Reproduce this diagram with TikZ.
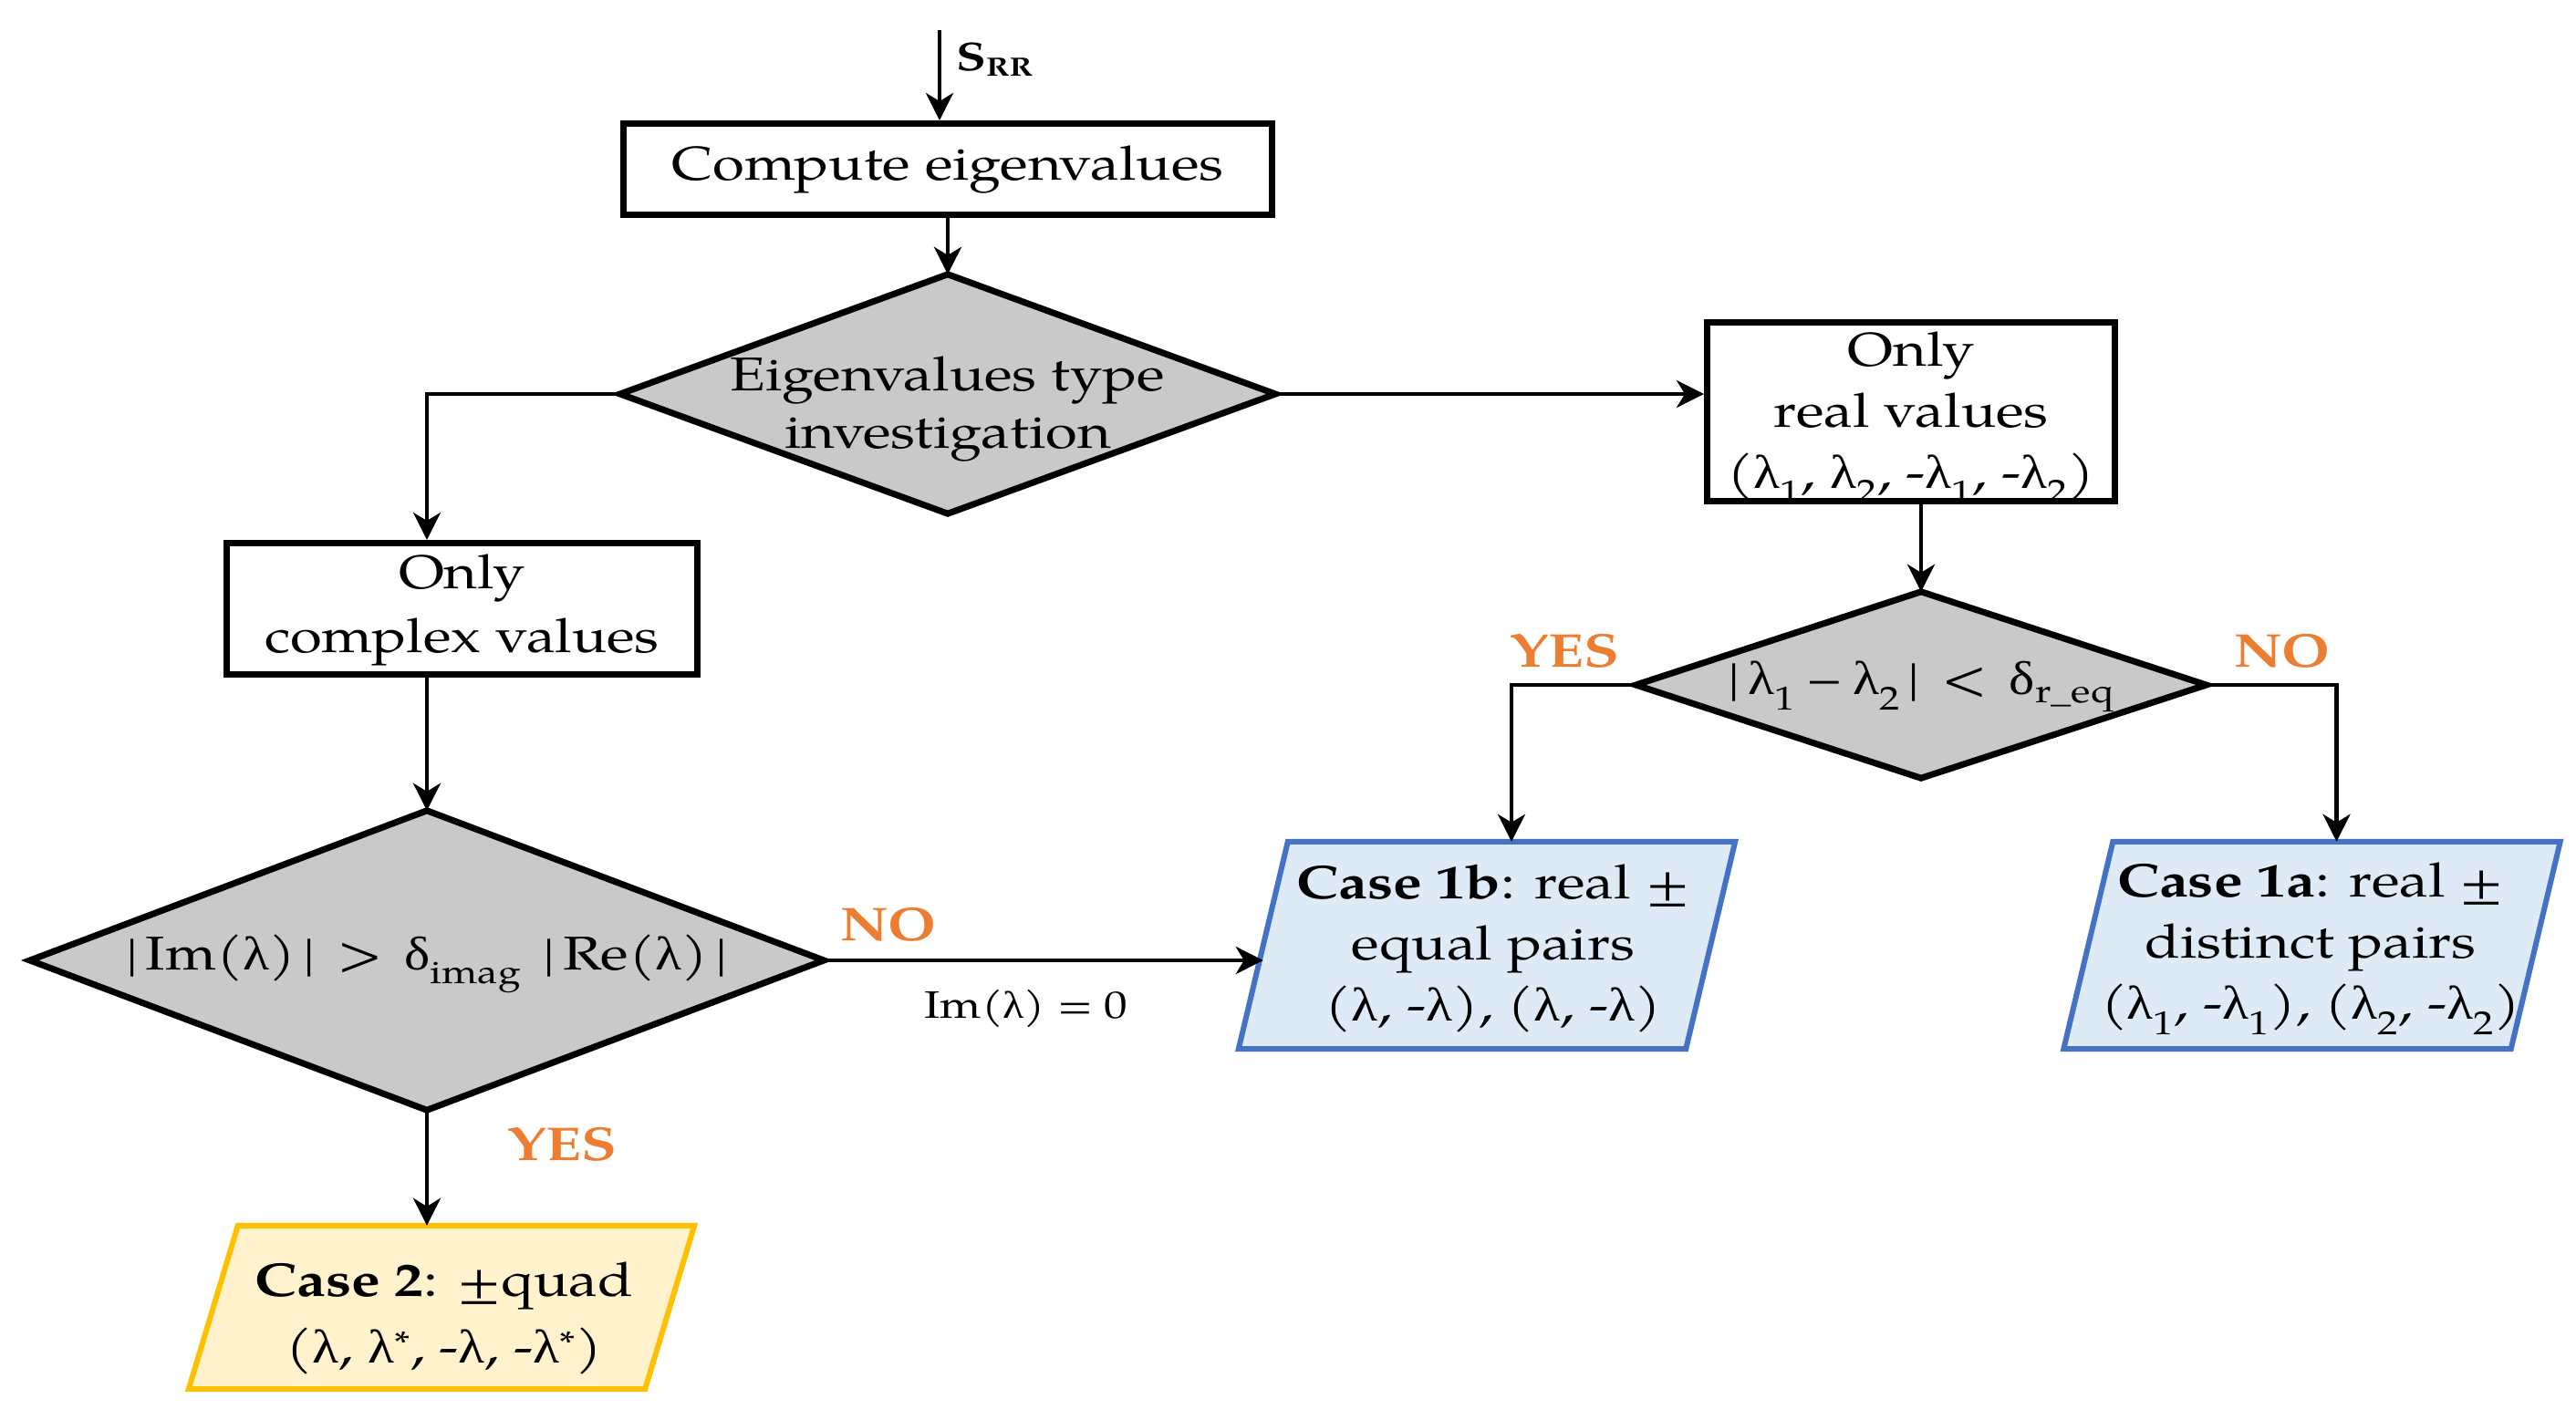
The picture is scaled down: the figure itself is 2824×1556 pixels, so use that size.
\documentclass[tikz,border=0pt]{standalone}
\usepackage{fontspec}
\setmainfont{texgyrepagella}[Extension=.otf, UprightFont=*-regular, BoldFont=*-bold, ItalicFont=*-italic, BoldItalicFont=*-bolditalic, FakeStretch=1.22]
\newfontfamily\grk{Liberation Serif}[FakeStretch=1.15]
\newcommand\glam{{\grk λ}}
\newcommand\gdel{{\grk δ}}
\usetikzlibrary{arrows.meta, calc}
\definecolor{dgray}{HTML}{C9C9C9}
\definecolor{cblue}{HTML}{4472C4}
\definecolor{cbluef}{HTML}{DEEBF7}
\definecolor{cyel}{HTML}{FFC000}
\definecolor{cyelf}{HTML}{FFF2CC}
\definecolor{corange}{HTML}{ED7D31}
\begin{document}
\begin{tikzpicture}[x=1pt, y=-1pt,
  box/.style={draw=black, line width=7pt, fill=white, inner sep=0pt},
  frame/.style={inner sep=0pt, draw=none},
  txt/.style={align=center, font=\fontsize{52}{67}\selectfont, inner sep=0pt},
  arr/.style={line width=4.5pt, -{Stealth[length=30pt, width=30pt, inset=9pt]}},
  diafill/.style={draw=black, line width=7pt, fill=dgray, line join=miter},
  bluepar/.style={draw=cblue, line width=6pt, fill=cbluef},
  yelpar/.style={draw=cyel, line width=6pt, fill=cyelf},
  lab/.style={font=\fontsize{52}{60}\selectfont\bfseries, text=corange, inner sep=0pt},
]
\useasboundingbox (0,0) rectangle (2824,1556);

% rectangles
\node[box, minimum width=711pt, minimum height=100pt] (comp) at (1039,185.5) {};
\node[txt] (compt) at (1039,185.5) {Compute eigenvalues};
\node[box, minimum width=447pt, minimum height=196pt] (rbox) at (2095,451.5) {};
\node[txt] (rboxt) at (2095,458) {Only\\real values\\(\glam\textsubscript{1}, \glam\textsubscript{2}, -\glam\textsubscript{1}, -\glam\textsubscript{2})};
\node[box, minimum width=516pt, minimum height=144pt] (cbox) at (506.5,667.5) {};
\node[txt, font=\fontsize{52}{70}\selectfont] (cboxt) at (506.5,669) {Only\\complex values};

% diamonds
\node[frame, minimum width=718pt, minimum height=262pt] (d1) at (1039,432) {};
\draw[diafill] (d1.north) -- (d1.east) -- (d1.south) -- (d1.west) -- cycle;
\node[txt, font=\fontsize{52}{63}\selectfont] (d1t) at (1039,448) {Eigenvalues type\\investigation};

\node[frame, minimum width=625pt, minimum height=204pt] (d2) at (2106,751) {};
\draw[diafill] (d2.north) -- (d2.east) -- (d2.south) -- (d2.west) -- cycle;
\node[txt] (d2t) at (2106,753) {|\,\glam\textsubscript{1} – \glam\textsubscript{2}\,| \,<\, \gdel\textsubscript{r\_eq}};

\node[frame, minimum width=870pt, minimum height=328pt] (d3) at (468,1053) {};
\draw[diafill] (d3.north) -- (d3.east) -- (d3.south) -- (d3.west) -- cycle;
\node[txt] (d3t) at (468,1057) {|\,Im(\glam)\,| \,>\, \gdel\textsubscript{imag} \,|\,Re(\glam)\,|};

% parallelograms
\node[frame, minimum width=490pt, minimum height=227pt] (c1b) at (1630,1036.5) {};
\draw[bluepar] ([xshift=27pt]c1b.north west) -- ([xshift=27pt]c1b.north east) -- ([xshift=-27pt]c1b.south east) -- ([xshift=-27pt]c1b.south west) -- cycle;
\node[txt] (c1bt) at (1637,1040) {\textbf{Case 1b}: real ±\\equal pairs\\(\glam, -\glam), (\glam, -\glam)};

\node[frame, minimum width=490pt, minimum height=227pt] (c1a) at (2534.5,1036.5) {};
\draw[bluepar] ([xshift=27pt]c1a.north west) -- ([xshift=27pt]c1a.north east) -- ([xshift=-27pt]c1a.south east) -- ([xshift=-27pt]c1a.south west) -- cycle;
\node[txt] (c1at) at (2533,1040) {\textbf{Case 1a}: real ±\\distinct pairs\\(\glam\textsubscript{1}, -\glam\textsubscript{1}), (\glam\textsubscript{2}, -\glam\textsubscript{2})};

\node[frame, minimum width=500pt, minimum height=179pt] (c2) at (484,1433.5) {};
\draw[yelpar] ([xshift=27pt]c2.north west) -- ([xshift=27pt]c2.north east) -- ([xshift=-27pt]c2.south east) -- ([xshift=-27pt]c2.south west) -- cycle;
\node[txt, font=\fontsize{52}{73}\selectfont] (c2t) at (487,1445) {\textbf{Case 2}: ±quad\\(\glam, \glam\textsuperscript{*}, -\glam, -\glam\textsuperscript{*})};

% labels
\node[txt, anchor=base west, font=\fontsize{44}{50}\selectfont\bfseries] (srr) at (1048,77) {S\raisebox{-6pt}{\fontsize{29}{29}\selectfont RR}};
\node[lab] (yes2) at (1715,714) {YES};
\node[lab] (no2) at (2502,714) {NO};
\node[lab] (no3) at (974,1014) {NO};
\node[lab] (yes3) at (616,1255) {YES};
\node[txt, font=\fontsize{42}{50}\selectfont] (im0) at (1125,1106) {Im(\glam) = 0};

% connectors
\coordinate (start) at (1030,33);
\draw[arr] (start) -- (start |- comp.north);
\draw[arr] (comp.south) -- (d1.north);
\draw[arr] (d1.east) -- (d1.east -| rbox.west);
\draw[arr] (d1.west) -| (d3.north |- cbox.north);
\draw[arr] (d3.north |- cbox.south) -- (d3.north);
\draw[arr] (d2.north |- rbox.south) -- (d2.north);
\draw[arr] (d2.west) -| ([xshift=27pt]c1b.north);
\draw[arr] (d2.east) -| ([xshift=27pt]c1a.north);
\draw[arr] (d3.east) -- (d3.east -| c1b.west);
\draw[arr] (d3.south) -- (d3.south |- c2.north);
\end{tikzpicture}
\end{document}
